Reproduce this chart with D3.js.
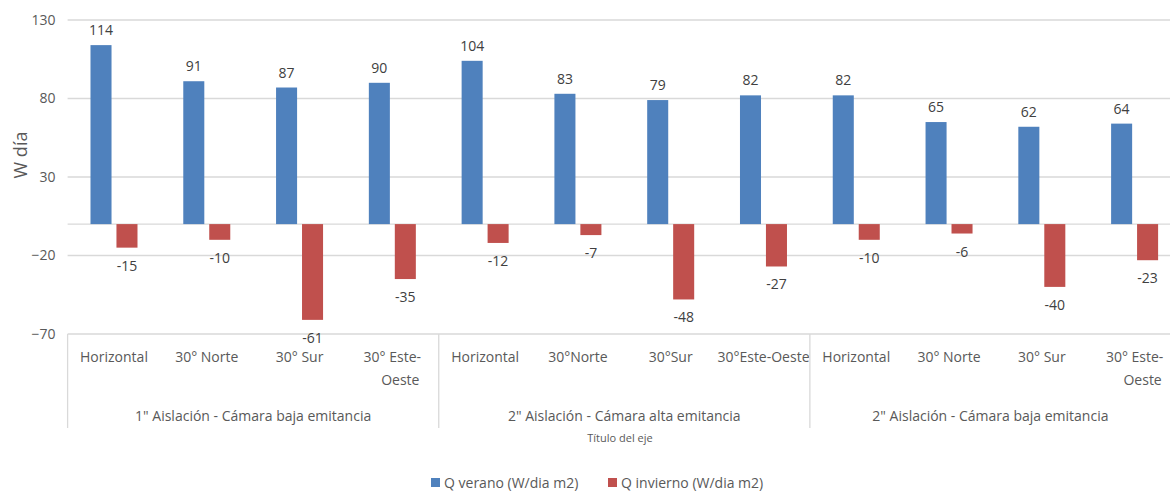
<!DOCTYPE html>
<html><head><meta charset="utf-8">
<script src="https://cdn.jsdelivr.net/npm/d3@7"></script>
<style>
body{margin:0;background:#fff;overflow:hidden;}
text{font-family:"Open Sans","Liberation Sans",sans-serif;}
</style></head>
<body><svg id="c" width="1170" height="491"></svg>
<script>
const categories = ["Horizontal","30° Norte","30° Sur","30° Este-Oeste","Horizontal","30°Norte","30°Sur","30°Este-Oeste","Horizontal","30° Norte","30° Sur","30° Este-Oeste"];
const categoryLines = [["Horizontal"],["30° Norte"],["30° Sur"],["30° Este-","Oeste"],["Horizontal"],["30°Norte"],["30°Sur"],["30°Este-Oeste"],["Horizontal"],["30° Norte"],["30° Sur"],["30° Este-","Oeste"]];
const groups = ["1\" Aislación - Cámara baja emitancia","2\" Aislación - Cámara alta emitancia","2\" Aislación - Cámara baja emitancia"];
const verano = [114,91,87,90,104,83,79,82,82,65,62,64];
const invierno = [-15,-10,-61,-35,-12,-7,-48,-27,-10,-6,-40,-23];
const seriesNames = ["Q verano (W/dia m2)","Q invierno (W/dia m2)"];
const yTicks = [130,80,30,-20,-70];
const colors = ["#4F81BD","#C0504D"];

const svg = d3.select("#c");
const L = 67.6, R = 1181, T = 20, B = 334;
const y = d3.scaleLinear().domain([-70,130]).range([B,T]);
const x = d3.scaleBand().domain(d3.range(12)).range([L,R]).paddingInner(0).paddingOuter(0);
const bw = x.bandwidth();
const x1 = d3.scaleBand().domain([0,1]).range([bw/2-23.5,bw/2+23.5]).paddingInner(0.19).paddingOuter(0);

// gridlines
svg.append("g").selectAll("line").data(yTicks).join("line")
  .attr("x1",L).attr("x2",R).attr("y1",d=>y(d)).attr("y2",d=>y(d))
  .attr("stroke","#d9d9d9").attr("stroke-width",1.3);
// zero axis line
svg.append("line").attr("x1",L).attr("x2",R).attr("y1",y(0)).attr("y2",y(0)).attr("stroke","#d9d9d9").attr("stroke-width",1.3);

// y tick labels
const yAxis = d3.axisLeft(y).tickValues(yTicks).tickSize(0).tickPadding(12);
const ga = svg.append("g").attr("transform",`translate(${L},0)`).call(yAxis);
ga.select(".domain").remove();
ga.selectAll("text").attr("font-size",14).attr("fill","#595959").attr("font-family","'Open Sans',sans-serif");

// y title
svg.append("text").attr("transform","translate(27,155) rotate(-90)").attr("text-anchor","middle")
  .attr("font-size",18).attr("fill","#595959").text("W día");

// bars
const data = [verano, invierno];
data.forEach((vals,si)=>{
  const g = svg.append("g");
  g.selectAll("rect").data(vals).join("rect")
    .attr("x",(d,i)=>x(i)+x1(si)).attr("width",x1.bandwidth())
    .attr("y",d=>y(Math.max(0,d))).attr("height",d=>Math.abs(y(d)-y(0)))
    .attr("fill",colors[si]);
  g.selectAll("text").data(vals).join("text")
    .attr("x",(d,i)=>x(i)+x1(si)+x1.bandwidth()/2)
    .attr("y",d=> d>=0 ? y(d)-10 : y(d)+23)
    .attr("text-anchor","middle").attr("font-size",14).attr("fill","#404040")
    .text(d=>d);
});

// category labels
const cg = svg.append("g");
categoryLines.forEach((lines,i)=>{
  const t = cg.append("text").attr("x",x(i)+bw/2).attr("y",362).attr("text-anchor","middle")
    .attr("font-size",14).attr("fill","#595959");
  lines.forEach((ln,k)=>{
    t.append("tspan").attr("x",x(i)+bw/2 + (lines.length>1 && k==1 ? 8 : 0)).attr("dy",k==0?0:23).text(ln);
  });
});
// group labels and dividers
groups.forEach((gname,gi)=>{
  const x0 = x(gi*4), xe = x(gi*4+3)+bw;
  svg.append("text").attr("x",(x0+xe)/2 - (gi==2?5:0)).attr("y",421).attr("text-anchor","middle")
    .attr("font-size",14).attr("fill","#595959").text(gname);
});
const divs = [0,4,8,12].map(k=> k<12 ? x(k) : R);
svg.append("g").selectAll("line").data(divs).join("line")
  .attr("x1",d=>d).attr("x2",d=>d).attr("y1",B).attr("y2",428)
  .attr("stroke","#d9d9d9").attr("stroke-width",1.3);

// axis title
svg.append("text").attr("x",620).attr("y",442).attr("text-anchor","middle")
  .attr("font-size",11).attr("fill","#595959").text("Título del eje");

// legend
const leg = [{x:431,tx:444},{x:608,tx:621}];
seriesNames.forEach((n,i)=>{
  svg.append("rect").attr("x",leg[i].x).attr("y",478).attr("width",9).attr("height",9).attr("fill",colors[i]);
  svg.append("text").attr("x",leg[i].tx).attr("y",488).attr("font-size",14).attr("fill","#595959").text(n);
});
</script></body></html>
